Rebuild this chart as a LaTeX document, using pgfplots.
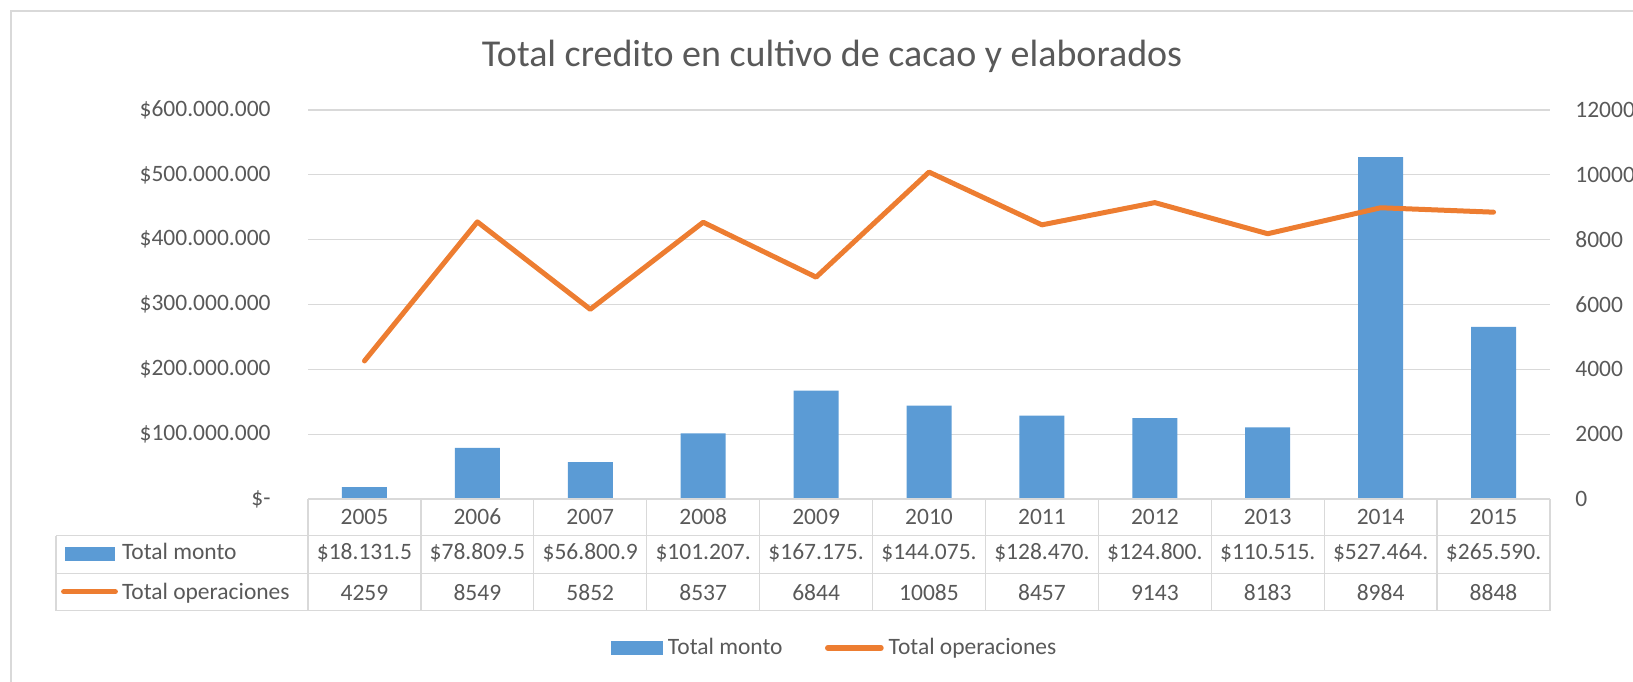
\documentclass[border=0pt]{standalone}
\usepackage{fontspec}
\setmainfont{Carlito}
\usepackage{pgfplots}
\pgfplotsset{compat=1.18}
\usepackage{pgfplotstable}
\definecolor{barblue}{HTML}{5B9BD5}
\definecolor{lineorange}{HTML}{ED7D31}
\definecolor{textgray}{HTML}{595959}
\definecolor{gridgray}{HTML}{D9D9D9}
\newcommand\lbl{\fontsize{11.75}{14}\selectfont}

% monto in millions of $
\pgfplotstableread{
x year monto ops
0 2005 18.1315 4259
1 2006 78.8095 8549
2 2007 56.8009 5852
3 2008 101.207 8537
4 2009 167.175 6844
5 2010 144.075 10085
6 2011 128.470 8457
7 2012 124.800 9143
8 2013 110.515 8183
9 2014 527.464 8984
10 2015 265.590 8848
}\datatable

\begin{document}
\begin{tikzpicture}[x=1pt,y=1pt]
\useasboundingbox (0,0) rectangle (816.5,340.5);
\draw[gridgray, line width=0.75pt] (5.5,-10) -- (5.5,335) -- (840,335);
\node[anchor=base, text=textgray, font=\fontsize{19}{22}\selectfont] at (416,307.15) {Total credito en cultivo de cacao y elaborados};

\begin{axis}[
  at={(154pt,91pt)}, anchor=south west, scale only axis,
  width=621pt, height=194.5pt,
  xmin=-0.5, xmax=10.5, ymin=0, ymax=600,
  xtick=\empty,
  ytick={0,100,200,300,400,500,600},
  yticklabels={\$-\hspace{4pt},\$100.000.000,\$200.000.000,\$300.000.000,\$400.000.000,\$500.000.000,\$600.000.000},
  scaled y ticks=false,
  ymajorgrids, grid style={gridgray, line width=0.6pt},
  axis line style={draw=none}, major tick length=0pt,
  yticklabel style={anchor=east, inner sep=0pt, xshift=-18.5pt, font=\lbl, text=textgray},
  legend columns=2,
  legend style={at={(axis description cs:0.24396,-0.383)}, anchor=west,
    draw=none, fill=none, inner sep=0pt, outer sep=0pt,
    font=\lbl, text=textgray, nodes={inner sep=0pt},
    /tikz/every odd column/.style={column sep=2.5pt},
    /tikz/every even column/.style={column sep=21.2pt}},
  legend cell align=left,
]
\addplot[ybar, bar width=22.5pt, bar shift=0pt, fill=barblue, draw=none,
  legend image code/.code={\fill[barblue] (0pt,-3.5pt) rectangle (26pt,3.5pt);}]
  table[x=x, y=monto]{\datatable};
\addlegendimage{legend image code/.code={\draw[lineorange, line width=2.75pt, line cap=round] (1.4pt,0pt) -- (28pt,0pt);}}
\legend{Total monto, Total operaciones}
\end{axis}

\begin{axis}[
  at={(154pt,91pt)}, anchor=south west, scale only axis,
  width=621pt, height=194.5pt,
  xmin=-0.5, xmax=10.5, ymin=0, ymax=12000,
  axis y line*=right, axis x line=none,
  xtick=\empty,
  ytick={0,2000,4000,6000,8000,10000,12000},
  yticklabels={0,2000,4000,6000,8000,10000,12000},
  scaled y ticks=false,
  axis line style={draw=none}, major tick length=0pt,
  yticklabel style={anchor=west, inner sep=0pt, xshift=12.5pt, font=\lbl, text=textgray},
]
\addplot[lineorange, line width=2.5pt, line join=round, line cap=round, mark=none]
  table[x=x, y=ops]{\datatable};
\end{axis}

% data table below the chart
\begin{scope}[gridgray, line width=0.65pt]
\draw (154,91) -- (775,91);
\draw (28,72.65) -- (775,72.65);
\draw (28,53.85) -- (775,53.85);
\draw (28,35.15) -- (775,35.15);
\draw (28,72.65) -- (28,35.15);
\foreach \k in {0,...,11} {\draw ({154+\k*56.4545},91) -- ({154+\k*56.4545},35.15);}
\end{scope}
\fill[barblue] (32.5,60.15) rectangle (57.5,67);
\node[anchor=base west, inner sep=0pt, text=textgray, font=\lbl] at (60.8,60.75) {Total monto};
\draw[lineorange, line width=2.75pt, line cap=round] (31.9,44.65) -- (57.6,44.65);
\node[anchor=base west, inner sep=0pt, text=textgray, font=\lbl] at (60.8,40.75) {Total operaciones};
\foreach \k/\yr/\m/\o in {0/2005/{\$18.131.5}/4259, 1/2006/{\$78.809.5}/8549, 2/2007/{\$56.800.9}/5852, 3/2008/{\$101.207.}/8537, 4/2009/{\$167.175.}/6844, 5/2010/{\$144.075.}/10085, 6/2011/{\$128.470.}/8457, 7/2012/{\$124.800.}/9143, 8/2013/{\$110.515.}/8183, 9/2014/{\$527.464.}/8984, 10/2015/{\$265.590.}/8848} {
  \pgfmathsetmacro\cx{182.227+56.4545*\k}
  \node[anchor=base, inner sep=0pt, text=textgray, font=\lbl] at (\cx,78.25) {\yr};
  \node[anchor=base, inner sep=0pt, text=textgray, font=\lbl] at (\cx,60.75) {\m};
  \node[anchor=base, inner sep=0pt, text=textgray, font=\lbl] at (\cx,40.5) {\o};
}
\end{tikzpicture}
\end{document}
